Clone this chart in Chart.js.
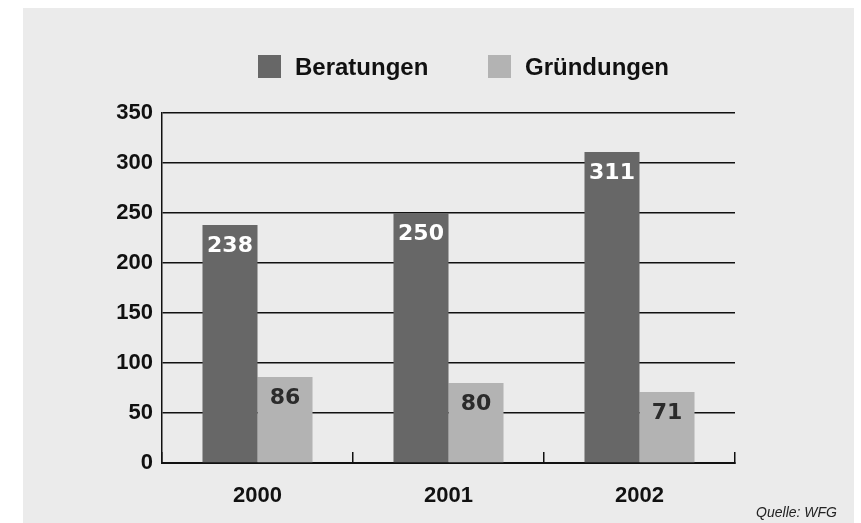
<!DOCTYPE html>
<html>
<head>
<meta charset="utf-8">
<script src="https://cdn.jsdelivr.net/npm/chart.js@4.4.0/dist/chart.umd.min.js"></script>
<style>
  body { margin: 0; background: #fff; }
  #box { position: absolute; left: 23px; top: 8px; width: 831px; height: 515px; background: #ebebeb; }
</style>
</head>
<body>
<div id="box"><canvas id="wfgChart"></canvas></div>
<script>
const years = ['2000', '2001', '2002'];
const beratungen = [238, 250, 311];
const gruendungen = [86, 80, 71];
const seriesNames = ['Beratungen', 'Gründungen'];
const yTicks = [0, 50, 100, 150, 200, 250, 300, 350];

const darkGrey = '#676767';
const lightGrey = '#b3b3b3';

// value labels inside the top of each bar
const barLabels = {
    id: 'barLabels',
    afterDatasetsDraw(chart) {
        const ctx = chart.ctx;
        ctx.save();
        ctx.font = 'bold 22px "DejaVu Sans"';
        ctx.textAlign = 'center';
        ctx.textBaseline = 'middle';
        chart.data.datasets.forEach((ds, i) => {
            ctx.fillStyle = i === 0 ? '#ffffff' : '#2b2b2b';
            chart.getDatasetMeta(i).data.forEach((bar, j) => {
                ctx.fillText(ds.data[j], bar.x, bar.y + 21);
            });
        });
        ctx.restore();
    }
};

// legend and source note
const extras = {
    id: 'extras',
    afterDraw(chart) {
        const ctx = chart.ctx;
        ctx.save();
        ctx.font = 'bold 24px "Liberation Sans"';
        ctx.textBaseline = 'middle';
        const starts = [235, 465];
        chart.data.datasets.forEach((ds, i) => {
            ctx.fillStyle = ds.backgroundColor;
            ctx.fillRect(starts[i], 47, 23, 23);
            ctx.fillStyle = '#111';
            ctx.fillText(ds.label, starts[i] + 37, 60);
        });
        ctx.font = 'italic 14px "Liberation Sans"';
        ctx.textAlign = 'right';
        ctx.textBaseline = 'alphabetic';
        ctx.fillStyle = '#222';
        ctx.fillText('Quelle: WFG', 814, 509);
        ctx.restore();
    }
};

new Chart(document.getElementById('wfgChart'), {
    type: 'bar',
    data: {
        labels: years,
        datasets: [
            { label: seriesNames[0], data: beratungen, backgroundColor: darkGrey },
            { label: seriesNames[1], data: gruendungen, backgroundColor: lightGrey }
        ]
    },
    options: {
        responsive: true,
        maintainAspectRatio: false,
        animation: false,
        categoryPercentage: 0.576,
        barPercentage: 1,
        layout: { padding: { left: 0, right: 119, top: 105, bottom: 0 } },
        plugins: {
            legend: { display: false },
            tooltip: { enabled: false }
        },
        scales: {
            x: {
                afterFit(scale) { scale.height = 60; },
                grid: {
                    drawOnChartArea: false,
                    drawTicks: true,
                    tickLength: -11,
                    color: '#111',
                    lineWidth: 1.5
                },
                border: { display: true, color: '#111', width: 2 },
                ticks: {
                    padding: 31,
                    color: '#111',
                    font: { family: 'Liberation Sans', size: 22, weight: 'bold' }
                }
            },
            y: {
                min: 0,
                max: 350,
                afterFit(scale) { scale.width = 139; },
                afterBuildTicks(scale) { scale.ticks = yTicks.map(v => ({ value: v })); },
                grid: { color: '#111', lineWidth: 1.5, drawTicks: false },
                border: { display: true, color: '#111', width: 1.5 },
                ticks: {
                    padding: 9,
                    color: '#111',
                    font: { family: 'Liberation Sans', size: 22, weight: 'bold' }
                }
            }
        }
    },
    plugins: [barLabels, extras]
});
</script>
</body>
</html>
